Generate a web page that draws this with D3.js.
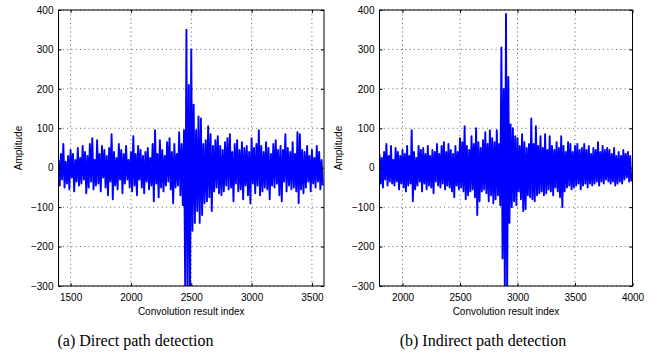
<!DOCTYPE html>
<html>
<head>
<meta charset="utf-8">
<script src="https://cdn.jsdelivr.net/npm/d3@7/dist/d3.min.js"></script>
<style>
body { margin: 0; background: #fff; }
svg { display: block; }
</style>
</head>
<body>
<svg width="661" height="356"></svg>
<script>
// sample spacing (index units) for the hand-read traces
var step = 10;

/* Direct path trace, index 1400..3590
-------------------------------------------------------------------------------- */
var directStart = 1400;
var directAmp = [
  20, -45, 35, -30, 60, -50, 15, -40, 30, -55, 45, -25, 35, -60, 20, -35, 50, -45, 25, -40,
  55, -30, 40, -65, 30, -50, 60, -35, 75, -55, 20, -45, 70, -40, 35, -60, 55, -25, 45, -50,
  30, -70, 50, -35, 85, -80, 40, -45, 25, -55, 60, -30, 45, -65, 35, -40, 55, -30, 20, -50,
  40, -60, 80, -45, 35, -70, 55, -30, 45, -50, 30, -65, 40, -35, 50, -55, 25, -45, 60, -85,
  95, -40, 35, -75, 70, -50, 45, -60, 30, -45, 65, -35, 75, -55, 40, -90, 60, -50, 35, -45,
  90, -70, 60, -95, 95, -320, 350, -320, 210, -320, 300, -160, 160, -140, 95, -110, 130, -140, 125, -120,
  60, -90, 70, -85, 105, -75, 85, -110, 55, -60, 70, -50, 80, -65, 55, -70, 45, -60, 65, -45,
  75, -55, 85, -50, 40, -85, 60, -40, 70, -60, 45, -55, 65, -80, 50, -45, 55, -70, 40, -90,
  75, -40, 50, -65, 60, -45, 95, -70, 55, -60, 40, -50, 65, -55, 50, -80, 35, -45, 60, -50,
  70, -40, 45, -70, 55, -85, 45, -35, 85, -60, 50, -45, 40, -55, 65, -50, 35, -60, 90, -90,
  85, -55, 45, -65, 40, -50, 55, -35, 30, -60, 45, -40, 25, -50, 55, -35, 40, -55, 20, -45
];

/* Indirect path trace, index 1800..3990
-------------------------------------------------------------------------------- */
var indirectStart = 1800;
var indirectAmp = [
  35, -40, 25, -50, 40, -30, 60, -45, 30, -35, 55, -40, 20, -45, 50, -35, 40, -55, 30, -40,
  45, -50, 35, -60, 55, -45, 30, -40, 95, -85, 40, -55, 25, -45, 55, -35, 45, -60, 50, -40,
  35, -55, 55, -45, 30, -50, 45, -65, 40, -35, 60, -45, 35, -50, 55, -40, 65, -55, 40, -45,
  60, -50, 45, -60, 35, -75, 55, -45, 40, -55, 75, -50, 65, -60, 105, -80, 55, -70, 45, -60,
  80, -55, 60, -75, 100, -120, 65, -85, 50, -60, 70, -55, 90, -65, 60, -85, 95, -70, 75, -90,
  65, -80, 95, -70, 60, -95, 305, -230, 200, -320, 390, -320, 230, -140, 110, -100, 100, -85, 80, -95,
  75, -60, 55, -80, 85, -110, 65, -105, 50, -70, 60, -75, 125, -80, 60, -85, 105, -70, 55, -65,
  80, -60, 50, -70, 85, -65, 45, -55, 80, -60, 55, -70, 45, -50, 65, -60, 50, -75, 80, -100,
  55, -60, 40, -50, 65, -45, 60, -55, 40, -50, 55, -45, 60, -40, 45, -55, 50, -45, 60, -40,
  45, -50, 55, -40, 35, -45, 50, -40, 45, -35, 65, -45, 40, -35, 55, -40, 45, -30, 50, -35,
  45, -40, 35, -35, 50, -45, 30, -40, 40, -35, 30, -40, 45, -30, 35, -25, 40, -35, 30, -35
];

var yTicks = [-300, -200, -100, 0, 100, 200, 300, 400];
var directXTicks = [1500, 2000, 2500, 3000, 3500];
var indirectXTicks = [2000, 2500, 3000, 3500, 4000];
var xLabel = "Convolution result index";
var yLabel = "Amplitude";

var svg = d3.select("svg");
var fmt = d3.format("d");

function drawPanel(id, left, right, xDomain, xTicks, start, amps, caption, capX, yLabX){
    var top = 10, bottom = 286;
    var x = d3.scaleLinear().domain(xDomain).range([left, right]);
    var y = d3.scaleLinear().domain([-300, 400]).range([bottom, top]);
    var g = svg.append("g");

    g.append("clipPath").attr("id", "clip" + id)
        .append("rect")
        .attr("x", left).attr("y", top)
        .attr("width", right - left).attr("height", bottom - top);

    // dotted grid
    g.selectAll(".vg").data(xTicks).enter().append("line")
        .attr("x1", function(d){ return x(d); }).attr("x2", function(d){ return x(d); })
        .attr("y1", top).attr("y2", bottom)
        .attr("stroke", "#333").attr("stroke-width", 0.8).attr("stroke-dasharray", "1,3.3");
    g.selectAll(".hg").data(yTicks).enter().append("line")
        .attr("y1", function(d){ return y(d); }).attr("y2", function(d){ return y(d); })
        .attr("x1", left).attr("x2", right)
        .attr("stroke", "#333").attr("stroke-width", 0.8).attr("stroke-dasharray", "1,3.3");

    var pts = amps.map(function(v, i){ return [start + i * step, v]; });
    var line = d3.line()
        .x(function(d){ return x(d[0]); })
        .y(function(d){ return y(d[1]); });
    g.append("path")
        .datum(pts)
        .attr("clip-path", "url(#clip" + id + ")")
        .attr("fill", "none")
        .attr("stroke", "#0000ff")
        .attr("stroke-width", 1.9)
        .attr("stroke-linejoin", "round")
        .attr("d", line);

    // axes, ticks inside like matlab
    var font = "'Liberation Sans', Arial, Helvetica, sans-serif";
    var ax = g.append("g").attr("transform", "translate(0," + bottom + ")")
        .call(d3.axisBottom(x).tickValues(xTicks).tickFormat(fmt).tickSizeInner(-3).tickSizeOuter(0).tickPadding(8));
    var axTop = g.append("g").attr("transform", "translate(0," + top + ")")
        .call(d3.axisTop(x).tickValues(xTicks).tickSizeInner(-3).tickSizeOuter(0).tickFormat(""));
    var ay = g.append("g").attr("transform", "translate(" + left + ",0)")
        .call(d3.axisLeft(y).tickValues(yTicks).tickSizeInner(-3).tickSizeOuter(0).tickPadding(5));
    var ayR = g.append("g").attr("transform", "translate(" + right + ",0)")
        .call(d3.axisRight(y).tickValues(yTicks).tickSizeInner(-3).tickSizeOuter(0).tickFormat(""));
    [ax, axTop, ay, ayR].forEach(function(a){
        a.select(".domain").remove();
        a.selectAll("text").attr("font-family", font).attr("font-size", 10).attr("fill", "#000");
        a.selectAll("line").attr("stroke", "#000");
    });

    g.append("rect")
        .attr("x", left).attr("y", top)
        .attr("width", right - left).attr("height", bottom - top)
        .attr("fill", "none").attr("stroke", "#000").attr("stroke-width", 1);

    g.append("text")
        .attr("x", (left + right) / 2).attr("y", 315)
        .attr("text-anchor", "middle")
        .attr("font-family", font).attr("font-size", 10)
        .text(xLabel);
    g.append("text")
        .attr("transform", "translate(" + yLabX + "," + ((top + bottom) / 2) + ") rotate(-90)")
        .attr("text-anchor", "middle")
        .attr("font-family", font).attr("font-size", 10)
        .text(yLabel);
    g.append("text")
        .attr("x", capX).attr("y", 346)
        .attr("text-anchor", "middle")
        .attr("font-family", "'Liberation Serif', 'Times New Roman', serif").attr("font-size", 16)
        .text(caption);
}

drawPanel("a", 58.5, 324, [1400, 3600], directXTicks, directStart, directAmp,
    "(a) Direct path detection", 135.5, 22);
drawPanel("b", 379.5, 632.5, [1800, 4000], indirectXTicks, indirectStart, indirectAmp,
    "(b) Indirect path detection", 483, 342);
</script>
</body>
</html>
